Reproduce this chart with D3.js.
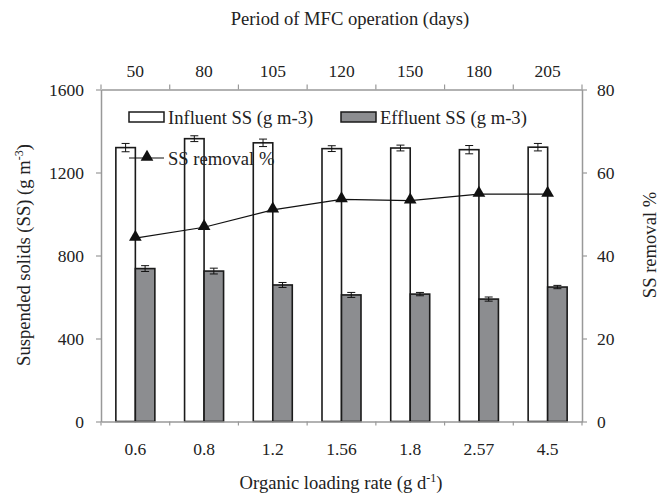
<!DOCTYPE html>
<html>
<head>
<meta charset="utf-8">
<script src="https://cdn.jsdelivr.net/npm/d3@7"></script>
<style>
  body { margin: 0; background: #fff; }
  text { font-family: "Liberation Serif", "Times New Roman", serif; fill: #222; }
</style>
</head>
<body>
<div id="chart"></div>
<script>
// data
var olr = ['0.6', '0.8', '1.2', '1.56', '1.8', '2.57', '4.5'];
var days = ['50', '80', '105', '120', '150', '180', '205'];
var influent = [1320, 1363, 1343, 1315, 1318, 1310, 1322];
var influentErr = [20, 14, 18, 14, 14, 20, 18];
var effluent = [737, 725, 658, 610, 614, 590, 648];
var effluentErr = [14, 14, 12, 12, 8, 10, 8];
var removal = [44.2, 46.8, 51.0, 53.5, 53.2, 54.8, 54.8];
var leftTicks = [0, 400, 800, 1200, 1600];
var rightTicks = [0, 20, 40, 60, 80];

var width = 668, height = 494;
var plotLeft = 101, plotRight = 582, plotTop = 89.5, plotBottom = 421.5;

var svg = d3.select("#chart").append("svg")
    .attr("width", width)
    .attr("height", height);

var x = d3.scaleBand().domain(olr).range([plotLeft, plotRight]);
var xTop = d3.scaleBand().domain(days).range([plotLeft, plotRight]);
var y = d3.scaleLinear().domain([0, 1600]).range([plotBottom, plotTop]);
var y2 = d3.scaleLinear().domain([0, 80]).range([plotBottom, plotTop]);

var barW = 19.5;
var axisColor = "#999";
var tickFont = "17.5px", titleFont = "18.6px";

// bars
var groups = svg.append("g").selectAll("g")
    .data(olr)
    .enter()
    .append("g");

groups.append("rect")
    .attr("x", function(d) { return x(d) + x.bandwidth() / 2 - barW; })
    .attr("y", function(d, i) { return y(influent[i]); })
    .attr("width", barW)
    .attr("height", function(d, i) { return y(0) - y(influent[i]); })
    .attr("fill", "#fff")
    .attr("stroke", "#1a1a1a")
    .attr("stroke-width", 1.6);

groups.append("rect")
    .attr("x", function(d) { return x(d) + x.bandwidth() / 2; })
    .attr("y", function(d, i) { return y(effluent[i]); })
    .attr("width", barW)
    .attr("height", function(d, i) { return y(0) - y(effluent[i]); })
    .attr("fill", "#8c8d90")
    .attr("stroke", "#1a1a1a")
    .attr("stroke-width", 1.6);

// error bars
function errBar(vals, errs, offset) {
    var g = svg.append("g").attr("stroke", "#111").attr("stroke-width", 1);
    olr.forEach(function(d, i) {
        var cx = x(d) + x.bandwidth() / 2 + offset;
        var y1 = y(vals[i] + errs[i]), y0 = y(vals[i] - errs[i]);
        g.append("line").attr("x1", cx).attr("x2", cx).attr("y1", y1).attr("y2", y0);
        g.append("line").attr("x1", cx - 4).attr("x2", cx + 4).attr("y1", y1).attr("y2", y1);
        g.append("line").attr("x1", cx - 4).attr("x2", cx + 4).attr("y1", y0).attr("y2", y0);
    });
}
errBar(influent, influentErr, -barW / 2);
errBar(effluent, effluentErr, barW / 2);

// removal line
var line = d3.line()
    .x(function(d, i) { return x(olr[i]) + x.bandwidth() / 2; })
    .y(function(d) { return y2(d); });

svg.append("path")
    .datum(removal)
    .attr("d", line)
    .attr("fill", "none")
    .attr("stroke", "#111")
    .attr("stroke-width", 1.2);

var tri = d3.symbol().type(d3.symbolTriangle).size(70);
svg.append("g").selectAll("path")
    .data(removal)
    .enter()
    .append("path")
    .attr("d", tri)
    .attr("transform", function(d, i) {
        return "translate(" + (x(olr[i]) + x.bandwidth() / 2) + "," + (y2(d) - 1) + ")";
    })
    .attr("fill", "#111");

// axes
function styleAxis(g) {
    g.select(".domain").attr("stroke", axisColor).attr("stroke-width", 1.5);
    g.selectAll(".tick line").attr("stroke", axisColor).attr("stroke-width", 1.2);
    g.selectAll("text")
        .style("font-family", "'Liberation Serif', serif")
        .style("font-size", tickFont)
        .attr("fill", "#222");
}

// bottom: ticks at band edges, labels centred
var edges = d3.range(olr.length + 1).map(function(i) { return plotLeft + i * x.step(); });
var xAxis = svg.append("g").attr("transform", "translate(0," + plotBottom + ")")
    .call(d3.axisBottom(x).tickSize(0).tickPadding(21).tickSizeOuter(0));
styleAxis(xAxis);
xAxis.selectAll(".tick line").remove();
xAxis.append("g").selectAll("line").data(edges).enter().append("line")
    .attr("x1", function(d) { return d; }).attr("x2", function(d) { return d; })
    .attr("y1", 0).attr("y2", 4)
    .attr("stroke", axisColor).attr("stroke-width", 1.2);

var xTopAxis = svg.append("g").attr("transform", "translate(0," + plotTop + ")")
    .call(d3.axisTop(xTop).tickSize(0).tickPadding(13).tickSizeOuter(0));
styleAxis(xTopAxis);
xTopAxis.selectAll(".tick line").remove();
xTopAxis.append("g").selectAll("line").data(edges).enter().append("line")
    .attr("x1", function(d) { return d; }).attr("x2", function(d) { return d; })
    .attr("y1", 0).attr("y2", -5)
    .attr("stroke", axisColor).attr("stroke-width", 1.2);

var yAxis = svg.append("g").attr("transform", "translate(" + plotLeft + ",0)")
    .call(d3.axisLeft(y).tickValues(leftTicks).tickFormat(d3.format("d"))
        .tickSize(5).tickPadding(12).tickSizeOuter(0));
styleAxis(yAxis);

var y2Axis = svg.append("g").attr("transform", "translate(" + plotRight + ",0)")
    .call(d3.axisRight(y2).tickValues(rightTicks).tickSize(5).tickPadding(10).tickSizeOuter(0));
styleAxis(y2Axis);

// axis titles
svg.append("text")
    .attr("x", 350).attr("y", 25)
    .attr("text-anchor", "middle")
    .style("font-size", titleFont)
    .text("Period of MFC operation (days)");

var xt = svg.append("text")
    .attr("x", 341).attr("y", 489)
    .attr("text-anchor", "middle")
    .style("font-size", titleFont);
xt.append("tspan").text("Organic loading rate (g d");
xt.append("tspan").attr("dy", -7).style("font-size", "12px").text("-1");
xt.append("tspan").attr("dy", 7).text(")");

var yt = svg.append("text")
    .attr("transform", "translate(30,255) rotate(-90)")
    .attr("text-anchor", "middle")
    .style("font-size", titleFont);
yt.append("tspan").text("Suspended solids (SS) (g m");
yt.append("tspan").attr("dy", -7).style("font-size", "12px").text("-3");
yt.append("tspan").attr("dy", 7).text(")");

svg.append("text")
    .attr("transform", "translate(656,245) rotate(-90)")
    .attr("text-anchor", "middle")
    .style("font-size", titleFont)
    .text("SS removal %");

// legend
var legend = svg.append("g");
legend.append("rect").attr("x", 129).attr("y", 112).attr("width", 35).attr("height", 10)
    .attr("fill", "#fff").attr("stroke", "#1a1a1a").attr("stroke-width", 1.5);
legend.append("text").attr("x", 168).attr("y", 124).style("font-size", titleFont)
    .text("Influent SS (g m-3)");
legend.append("rect").attr("x", 341).attr("y", 112).attr("width", 35).attr("height", 10)
    .attr("fill", "#8c8d90").attr("stroke", "#1a1a1a").attr("stroke-width", 1.5);
legend.append("text").attr("x", 380).attr("y", 124).style("font-size", titleFont)
    .text("Effluent SS (g m-3)");
legend.append("line").attr("x1", 129).attr("x2", 164).attr("y1", 158).attr("y2", 158)
    .attr("stroke", "#111").attr("stroke-width", 1.2);
legend.append("path").attr("d", tri).attr("transform", "translate(147,157)").attr("fill", "#111");
legend.append("text").attr("x", 168).attr("y", 165).style("font-size", titleFont)
    .text("SS removal %");
</script>
</body>
</html>
